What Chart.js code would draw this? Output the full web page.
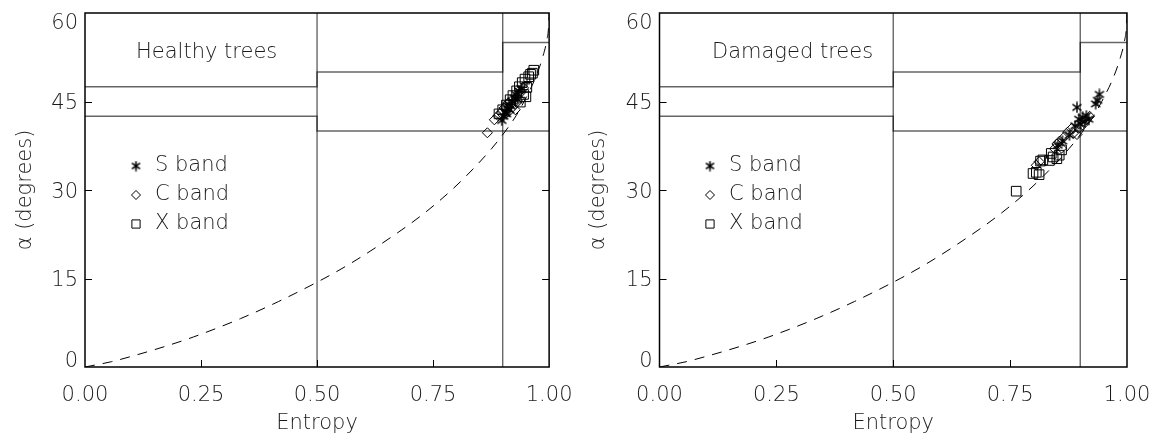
<!DOCTYPE html>
<html>
<head>
<meta charset="utf-8">
<script src="https://cdn.jsdelivr.net/npm/chart.js@4/dist/chart.umd.min.js"></script>
<style>
  body { margin: 0; background: #fff; }
  .wrap { display: flex; width: 1160px; height: 435px; }
  .panel { width: 580px; height: 435px; }
</style>
</head>
<body>
<div class="wrap">
  <div class="panel"><canvas id="healthy" width="580" height="435"></canvas></div>
  <div class="panel"><canvas id="damaged" width="580" height="435"></canvas></div>
</div>
<script>
// axis ticks
const entropyTicks = [0, 0.25, 0.5, 0.75, 1];
const alphaTicks = [0, 15, 30, 45, 60];

// dashed feasibility curve
const curveH = [0, 0.057, 0.100, 0.173, 0.234, 0.335, 0.417, 0.515, 0.569, 0.637, 0.725, 0.790, 0.839, 0.877, 0.906, 0.929, 0.946, 0.971, 0.986, 0.995, 0.999, 1];
const curveAlpha = [0, 0.9, 1.8, 3.5, 5.1, 8.2, 11.1, 15.0, 17.4, 20.8, 25.7, 30.0, 33.8, 37.1, 40.0, 42.6, 45.0, 49.1, 52.5, 55.4, 57.9, 60];

// zone boundaries
const zoneVerticalH = [0.5, 0.9];
const upperBoundH = [0, 0.5, 0.5, 0.9, 0.9, 1];
const upperBoundAlpha = [47.5, 47.5, 50, 50, 55, 55];
const lowerBoundH = [0, 0.5, 0.5, 1];
const lowerBoundAlpha = [42.5, 42.5, 40, 40];

// healthy trees
const healthySH = [0.898, 0.902, 0.905, 0.908, 0.910, 0.913, 0.915, 0.918, 0.920, 0.925, 0.928, 0.932, 0.935, 0.940];
const healthySAlpha = [41.8, 42.5, 43.2, 42.9, 43.8, 44.5, 43.6, 44.2, 45.1, 45.6, 46.2, 45.3, 46.8, 47.2];
const healthyCH = [0.867, 0.882, 0.890, 0.896, 0.903, 0.910, 0.912, 0.916, 0.922, 0.927, 0.930, 0.935, 0.940, 0.945];
const healthyCAlpha = [39.7, 41.9, 42.6, 43.1, 43.9, 44.6, 43.2, 45.0, 44.1, 43.6, 44.8, 45.5, 46.6, 47.3];
const healthyXH = [0.892, 0.900, 0.908, 0.916, 0.922, 0.930, 0.936, 0.938, 0.942, 0.945, 0.948, 0.950, 0.952, 0.956, 0.960, 0.964, 0.967];
const healthyXAlpha = [42.9, 43.6, 44.4, 45.3, 46.0, 46.8, 47.5, 44.9, 48.2, 46.2, 48.8, 45.8, 47.4, 49.2, 49.6, 49.8, 50.3];

// damaged trees
const damagedSH = [0.852, 0.862, 0.877, 0.889, 0.893, 0.897, 0.901, 0.905, 0.910, 0.913, 0.918, 0.933, 0.937, 0.941];
const damagedSAlpha = [37.6, 38.3, 39.3, 40.9, 44.0, 42.0, 41.2, 42.3, 41.6, 42.6, 42.0, 44.6, 45.2, 46.2];
const damagedCH = [0.806, 0.812, 0.845, 0.850, 0.856, 0.860, 0.866, 0.873, 0.881, 0.885, 0.893, 0.898, 0.905, 0.912, 0.920];
const damagedCAlpha = [34.2, 34.8, 37.0, 37.8, 38.3, 37.1, 39.0, 39.8, 40.4, 39.6, 39.4, 40.5, 41.0, 41.8, 42.5];
const damagedXH = [0.763, 0.799, 0.806, 0.812, 0.815, 0.820, 0.834, 0.838, 0.842, 0.850, 0.855, 0.860];
const damagedXAlpha = [29.8, 32.8, 33.0, 32.6, 34.9, 35.1, 35.0, 36.2, 35.6, 35.3, 35.9, 36.8];

const bandLabels = ['S band', 'C band', 'X band'];

const FONT = 'DejaVu Sans';
const INK = '#1a1a1a';
const LABEL_FONT = '200 21px "' + FONT + '"';

function pairs(xs, ys) {
    return xs.map((v, i) => ({ x: v, y: ys[i] }));
}

// IDL style asterisk as a little canvas
function makeAsterisk(size, lw) {
    const c = document.createElement('canvas');
    c.width = size;
    c.height = size;
    const g = c.getContext('2d');
    const r = size / 2 - 0.5;
    const cx = size / 2, cy = size / 2;
    g.strokeStyle = '#000';
    g.lineWidth = lw;
    g.beginPath();
    [90, 35, -35].forEach(a => {
        const rad = a * Math.PI / 180;
        g.moveTo(cx - r * Math.cos(rad), cy - r * Math.sin(rad));
        g.lineTo(cx + r * Math.cos(rad), cy + r * Math.sin(rad));
    });
    g.stroke();
    return c;
}

const markers = [
    { pointStyle: makeAsterisk(12, 1.4), radius: 6 },
    { pointStyle: 'rectRot', radius: 5 },
    { pointStyle: 'rect', radius: 6.8 }
];
const legendMarkers = [
    { pointStyle: makeAsterisk(11, 1.6), radius: 5 },
    { pointStyle: 'rectRot', radius: 4.5 },
    { pointStyle: 'rect', radius: 5.8 }
];

const framePlugin = {
    id: 'frame',
    afterDatasetsDraw(chart) {
        const { ctx, chartArea: a, scales: { x, y } } = chart;
        ctx.save();
        ctx.strokeStyle = '#000';
        ctx.lineWidth = 1;
        ctx.beginPath();
        entropyTicks.slice(1, -1).forEach(v => {
            const px = Math.round(x.getPixelForValue(v)) + 0.5;
            ctx.moveTo(px, a.bottom);
            ctx.lineTo(px, a.bottom - 7);
        });
        alphaTicks.slice(1, -1).forEach(v => {
            const py = Math.round(y.getPixelForValue(v)) + 0.5;
            ctx.moveTo(a.left, py);
            ctx.lineTo(a.left + 7, py);
            ctx.moveTo(a.right, py);
            ctx.lineTo(a.right - 7, py);
        });
        ctx.stroke();
        ctx.lineWidth = 1.5;
        ctx.strokeRect(a.left, a.top, a.right - a.left, a.bottom - a.top);
        ctx.restore();
    },
    afterDraw(chart) {
        const opts = chart.options.plugins.frame;
        const { ctx, chartArea: a, scales: { y } } = chart;
        ctx.save();
        ctx.fillStyle = INK;
        ctx.font = LABEL_FONT;

        // y tick labels, end labels kept inside the axis range
        ctx.textAlign = 'right';
        ctx.textBaseline = 'alphabetic';
        alphaTicks.forEach((v, i) => {
            const py = y.getPixelForValue(v);
            let base = py + 7.6;
            if (i === 0) base = a.bottom;
            if (i === alphaTicks.length - 1) base = a.top + 15.5;
            ctx.fillText(String(v), a.left - 7, base);
        });

        ctx.textAlign = 'left';
        ctx.textBaseline = 'middle';
        ctx.fillText(opts.title, opts.titleX, 53);
        bandLabels.forEach((label, i) => {
            const yy = opts.legendY[i];
            ctx.fillStyle = 'rgba(0,0,0,0)';
            ctx.strokeStyle = '#000';
            Chart.helpers.drawPoint(ctx, {
                pointStyle: legendMarkers[i].pointStyle,
                radius: legendMarkers[i].radius,
                borderWidth: 1,
                rotation: 0
            }, opts.markerX, yy);
            ctx.fillStyle = INK;
            ctx.fillText(label, opts.textX, yy);
        });
        ctx.restore();
    }
};

function buildChart(cfg) {
    const zoneLine = data => ({
        data: data,
        showLine: true,
        borderColor: 'rgba(0,0,0,0.6)',
        borderWidth: 1.4,
        pointRadius: 0,
        order: 5
    });

    const datasets = [
        {
            data: pairs(curveH, curveAlpha),
            showLine: true,
            borderColor: '#000',
            borderWidth: 1,
            borderDash: [10, 8],
            pointRadius: 0,
            cubicInterpolationMode: 'monotone',
            order: 4
        },
        zoneLine(pairs(upperBoundH, upperBoundAlpha)),
        zoneLine(pairs(lowerBoundH, lowerBoundAlpha))
    ];
    zoneVerticalH.forEach(h => {
        datasets.push(zoneLine([{ x: h, y: 0 }, { x: h, y: 60 }]));
    });

    cfg.bands.forEach((band, i) => {
        datasets.push({
            data: pairs(band[0], band[1]),
            showLine: false,
            pointStyle: markers[i].pointStyle,
            pointRadius: markers[i].radius,
            pointBorderColor: '#000',
            pointBackgroundColor: 'rgba(0,0,0,0)',
            pointBorderWidth: 1,
            order: 1
        });
    });

    return new Chart(document.getElementById(cfg.id), {
        type: 'scatter',
        data: { datasets: datasets },
        options: {
            responsive: false,
            animation: false,
            events: [],
            layout: { padding: { top: 13, right: cfg.rightPad, left: 0, bottom: 0 } },
            plugins: {
                legend: { display: false },
                tooltip: { enabled: false },
                frame: cfg.frame
            },
            scales: {
                x: {
                    type: 'linear',
                    min: 0,
                    max: 1,
                    grid: { display: false },
                    border: { display: false },
                    afterBuildTicks: s => { s.ticks = entropyTicks.map(v => ({ value: v })); },
                    afterFit: s => { s.height = 68; },
                    ticks: {
                        color: INK,
                        padding: 7.5,
                        maxRotation: 0,
                        font: { family: FONT, size: 21, weight: 200 },
                        callback: v => v.toFixed(2)
                    },
                    title: {
                        display: true,
                        text: 'Entropy',
                        color: INK,
                        font: { family: FONT, size: 21, weight: 200 },
                        padding: { top: 0, bottom: -1 }
                    }
                },
                y: {
                    type: 'linear',
                    min: 0,
                    max: 60,
                    grid: { display: false },
                    border: { display: false },
                    afterBuildTicks: s => { s.ticks = alphaTicks.map(v => ({ value: v })); },
                    afterFit: s => { s.width = cfg.yWidth; },
                    ticks: { display: false },
                    title: {
                        display: true,
                        text: 'α (degrees)',
                        color: INK,
                        font: { family: FONT, size: 21, weight: 200 },
                        padding: { top: cfg.yTitlePad, bottom: 0 }
                    }
                }
            }
        },
        plugins: [framePlugin]
    });
}

buildChart({
    id: 'healthy',
    yWidth: 85,
    rightPad: 27.5,
    yTitlePad: 13,
    bands: [[healthySH, healthySAlpha], [healthyCH, healthyCAlpha], [healthyXH, healthyXAlpha]],
    frame: { title: 'Healthy trees', titleX: 136, markerX: 136, textX: 155, legendY: [166, 195, 224] }
});

buildChart({
    id: 'damaged',
    yWidth: 79.5,
    rightPad: 33,
    yTitlePad: 6,
    bands: [[damagedSH, damagedSAlpha], [damagedCH, damagedCAlpha], [damagedXH, damagedXAlpha]],
    frame: { title: 'Damaged trees', titleX: 132, markerX: 130, textX: 149, legendY: [166, 195, 224] }
});
</script>
</body>
</html>
